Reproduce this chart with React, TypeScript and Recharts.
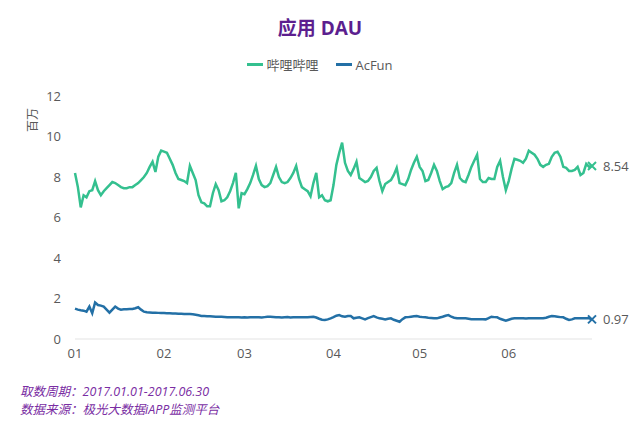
import { Label, LabelList, Line, LineChart, XAxis, YAxis } from 'recharts';

const MONTHS = ['01', '02', '03', '04', '05', '06'];
const MONTH_DAYS = [31, 28, 31, 30, 31, 30];
const Y_TICKS = [0, 2, 4, 6, 8, 10, 12];

// 哔哩哔哩 DAU, millions, 2017-01-01 .. 2017-06-30
const BILIBILI = [
  8.2, 7.5, 6.5, 7.1, 7.0, 7.3, 7.35, 7.8, 7.35, 7.1, 7.3, 7.45, 7.6, 7.75, 7.7, 7.6, 7.5, 7.45, 7.45, 7.5,
  7.5, 7.6, 7.7, 7.85, 8.0, 8.2, 8.5, 8.75, 8.25, 9.0, 9.3,
  9.25, 9.2, 8.9, 8.6, 8.2, 7.9, 7.85, 7.8, 7.7, 8.55, 8.2, 7.85, 7.1, 6.75, 6.7, 6.55, 6.55, 7.2, 7.65, 7.35,
  6.8, 6.85, 7.0, 7.3, 7.7, 8.2, 6.45, 7.2,
  7.15, 7.4, 7.7, 8.1, 8.55, 7.9, 7.6, 7.5, 7.55, 7.7, 8.1, 8.5, 8.0, 7.75, 7.7, 7.75, 7.95, 8.2, 8.55, 7.9,
  7.5, 7.4, 7.3, 7.05, 7.7, 8.2, 7.0, 7.1, 6.85, 6.8, 6.85,
  7.6, 8.6, 9.2, 9.7, 8.7, 8.3, 8.1, 8.4, 8.75, 7.95, 7.85, 7.75, 7.8, 8.0, 8.3, 8.45, 7.8, 7.3, 7.65, 7.75,
  7.85, 8.1, 8.45, 7.7, 7.65, 7.6, 7.9, 8.35, 8.7, 9.0,
  8.5, 8.3, 7.8, 7.85, 8.2, 8.6, 8.3, 7.8, 7.4, 7.5, 7.55, 7.7, 8.2, 8.6, 7.95, 7.8, 7.75, 8.1, 8.5, 8.8,
  9.1, 7.9, 7.75, 7.75, 7.95, 7.9, 7.9, 8.5, 8.8, 8.0, 7.35,
  7.8, 8.4, 8.9, 8.85, 8.8, 8.7, 8.9, 9.3, 9.2, 9.1, 8.9, 8.6, 8.5, 8.6, 8.65, 9.0, 9.2, 9.25, 9.0, 8.5,
  8.45, 8.3, 8.3, 8.35, 8.5, 8.1, 8.2, 8.65, 8.5, 8.54,
];

// AcFun DAU, millions
const ACFUN = [
  1.5, 1.45, 1.42, 1.4, 1.35, 1.6, 1.27, 1.8, 1.68, 1.65, 1.6, 1.45, 1.3, 1.45, 1.6, 1.5, 1.45, 1.47, 1.47, 1.48,
  1.48, 1.52, 1.57, 1.45, 1.35, 1.32, 1.31, 1.3, 1.3, 1.29, 1.28,
  1.28, 1.27, 1.27, 1.26, 1.26, 1.25, 1.25, 1.24, 1.24, 1.23, 1.22, 1.2, 1.17, 1.14, 1.13, 1.12, 1.12, 1.11, 1.1, 1.1,
  1.1, 1.09, 1.08, 1.08, 1.07, 1.07, 1.07, 1.06,
  1.07, 1.06, 1.07, 1.07, 1.08, 1.07, 1.06, 1.08, 1.1, 1.1, 1.09, 1.08, 1.07, 1.06, 1.07, 1.08, 1.06, 1.07, 1.08, 1.07,
  1.07, 1.08, 1.07, 1.09, 1.1, 1.06, 1.0, 0.95, 0.94, 0.97, 1.02,
  1.08, 1.15, 1.18, 1.12, 1.1, 1.13, 1.13, 1.02, 1.05, 1.07, 1.02, 0.97, 1.03, 1.08, 1.13, 1.07, 1.02, 1.0, 0.97, 1.0,
  1.02, 0.95, 0.9, 0.85, 0.98, 1.07, 1.08, 1.1, 1.12, 1.13,
  1.1, 1.08, 1.07, 1.05, 1.04, 1.03, 1.02, 1.06, 1.1, 1.15, 1.18, 1.1, 1.05, 1.02, 1.03, 1.02, 1.02, 1.0, 0.98, 0.97,
  0.97, 0.97, 0.98, 0.97, 1.03, 1.1, 1.08, 1.07, 1.0, 0.95, 0.9,
  0.95, 1.0, 1.02, 1.02, 1.03, 1.02, 1.01, 1.02, 1.02, 1.03, 1.02, 1.02, 1.02, 1.05, 1.1, 1.13, 1.12, 1.1, 1.08, 1.07,
  1.0, 0.94, 0.97, 1.02, 1.02, 1.03, 1.02, 1.02, 1.02, 0.97,
];

const GREEN = '#34c08f';
const BLUE = '#2370a6';
const TEXT = '#595959';
const PURPLE = '#5c1f8f';
const FONT = '"Open Sans", "Noto Sans CJK SC", sans-serif';

const dates = MONTHS.flatMap((m, i) =>
  Array.from({ length: MONTH_DAYS[i] }, (_, d) => `${m}-${String(d + 1).padStart(2, '0')}`),
);
const data = dates.map((date, i) => ({ date, bili: BILIBILI[i], acfun: ACFUN[i] }));
const monthTicks = MONTHS.map((m) => `${m}-01`);
const last = data.length - 1;

function endMark(color: string) {
  return (p: any) => {
    if (p.index !== last) return <g key={p.index} />;
    const { cx, cy } = p;
    return (
      <path
        key={p.index}
        d={`M${cx - 4},${cy - 4}L${cx + 4},${cy + 4}M${cx + 4},${cy - 4}L${cx - 4},${cy + 4}`}
        stroke={color}
        strokeWidth={2}
      />
    );
  };
}

function endLabel(p: any) {
  if (p.index !== last) return null;
  return (
    <text x={p.x + 11} y={p.y} dy={5} fill={TEXT} fontSize={13} fontFamily={FONT}>
      {p.value}
    </text>
  );
}

function LegendBox() {
  const item = (color: string, name: string) => (
    <span style={{ display: 'inline-flex', alignItems: 'center', margin: '0 9px' }}>
      <span style={{ width: 16, height: 3, background: color, marginRight: 3 }} />
      <span>{name}</span>
    </span>
  );
  return (
    <div
      style={{
        position: 'absolute',
        top: 52,
        width: 640,
        textAlign: 'center',
        fontSize: 13,
        color: TEXT,
      }}
    >
      {item(GREEN, '哔哩哔哩')}
      {item(BLUE, 'AcFun')}
    </div>
  );
}

export default function App() {
  return (
    <div style={{ position: 'absolute', left: 0, top: 0, width: 640, height: 422, background: '#fff', fontFamily: FONT }}>
      <div
        style={{
          position: 'absolute',
          top: 13,
          width: 640,
          textAlign: 'center',
          fontSize: 19,
          fontWeight: 700,
          color: PURPLE,
        }}
      >
        应用 DAU
      </div>
      <LegendBox />
      <LineChart width={640} height={422} data={data} margin={{ top: 96, right: 48, bottom: 53, left: 20 }}>
        <XAxis
          dataKey="date"
          ticks={monthTicks}
          interval={0}
          tickFormatter={(v: string) => v.slice(0, 2)}
          tickLine={false}
          axisLine={{ stroke: '#e3e3e3' }}
          tick={{ fill: TEXT, fontSize: 13, fontFamily: FONT }}
          tickMargin={4}
          height={30}
        />
        <YAxis
          domain={[0, 12]}
          ticks={Y_TICKS}
          axisLine={false}
          tickLine={false}
          width={55}
          tick={{ fill: TEXT, fontSize: 13, fontFamily: FONT }}
          tickMargin={8}
        >
          <Label
            value="百万"
            angle={-90}
            position="insideTopLeft"
            offset={0}
            dx={8}
            dy={36}
            fill={TEXT}
            fontSize={12}
            fontFamily={FONT}
          />
        </YAxis>
        <Line
          type="linear"
          dataKey="bili"
          stroke={GREEN}
          strokeWidth={2.5}
          dot={endMark(GREEN)}
          activeDot={false}
          isAnimationActive={false}
        >
          <LabelList dataKey="bili" content={endLabel} />
        </Line>
        <Line
          type="linear"
          dataKey="acfun"
          stroke={BLUE}
          strokeWidth={2.5}
          dot={endMark(BLUE)}
          activeDot={false}
          isAnimationActive={false}
        >
          <LabelList dataKey="acfun" content={endLabel} />
        </Line>
      </LineChart>
      <div
        style={{
          position: 'absolute',
          left: 20,
          top: 383,
          fontSize: 12.5,
          lineHeight: '18px',
          fontStyle: 'italic',
          color: '#7a2da3',
        }}
      >
        <div>取数周期：2017.01.01-2017.06.30</div>
        <div>数据来源：极光大数据iAPP监测平台</div>
      </div>
    </div>
  );
}
